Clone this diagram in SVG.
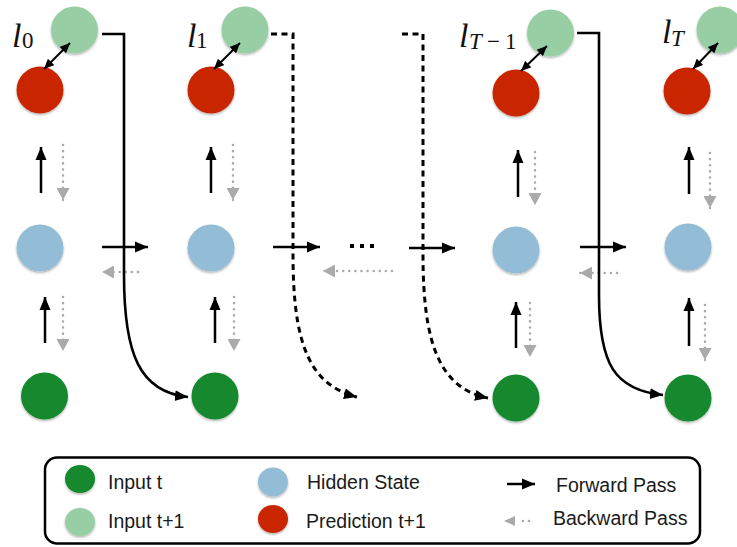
<svg xmlns="http://www.w3.org/2000/svg" width="737" height="547" viewBox="0 0 737 547">
<style>
.lg{fill:#97cea4}.rd{fill:#c92606}.bl{fill:#93bdd7}.dg{fill:#13882d}
.node circle,.leg ellipse{filter:url(#sh)}
.fw{fill:none;stroke:#000;stroke-width:2.5;marker-end:url(#ah)}
.bw{fill:none;stroke:#aaa;stroke-width:2.5;stroke-dasharray:0.1 6;stroke-linecap:round;marker-end:url(#gh)}
.sk{fill:none;stroke:#000;stroke-width:2.6;marker-end:url(#ah)}
.dk{fill:none;stroke:#000;stroke-width:3;stroke-dasharray:6 4.5;marker-end:url(#ah)}
.dbl{fill:none;stroke:#000;stroke-width:2;marker-start:url(#sa);marker-end:url(#sa)}
.lab{font-family:"Liberation Serif","DejaVu Serif",serif;fill:#111}
.li{font-size:34px;font-style:italic}
.sb{font-size:23px}
.lt{font-family:"Liberation Sans","DejaVu Sans",sans-serif;font-size:19.5px;fill:#1a1a1a}
</style>
<defs>
<filter id="sh" x="-30%" y="-30%" width="160%" height="170%"><feDropShadow dx="0" dy="1.5" stdDeviation="1.2" flood-color="#000" flood-opacity="0.3"/></filter>
<marker id="ah" markerUnits="userSpaceOnUse" markerWidth="13" markerHeight="12" refX="13" refY="6" orient="auto"><path d="M0,0.5 L13,6 L0,11.5 z" fill="#000"/></marker>
<marker id="gh" markerUnits="userSpaceOnUse" markerWidth="12" markerHeight="13" refX="12" refY="6.5" orient="auto"><path d="M0,0 L12,6.5 L0,13 z" fill="#aaa"/></marker>
<marker id="sa" markerUnits="userSpaceOnUse" markerWidth="10" markerHeight="9" refX="10" refY="4.5" orient="auto-start-reverse"><path d="M0,0 L10,4.5 L0,9 z" fill="#000"/></marker>
</defs>

<g id="col0-input-next" class="node"><circle class="lg" cx="74.5" cy="30" r="23.5"/>
<text class="lab"><tspan class="li" x="12" y="47">l</tspan><tspan class="sb" x="22" y="48">0</tspan></text></g>
<g id="col0-pred" class="node"><circle class="rd" cx="40" cy="90" r="23.5"/></g>
<g id="col0-hidden" class="node"><circle class="bl" cx="40" cy="248" r="23.5"/></g>
<g id="col0-input" class="node"><circle class="dg" cx="44.5" cy="396" r="23.5"/></g>

<g id="col1-input-next" class="node"><circle class="lg" cx="245" cy="30" r="23.5"/>
<text class="lab"><tspan class="li" x="187" y="47">l</tspan><tspan class="sb" x="196" y="48">1</tspan></text></g>
<g id="col1-pred" class="node"><circle class="rd" cx="211" cy="90" r="23.5"/></g>
<g id="col1-hidden" class="node"><circle class="bl" cx="211" cy="248" r="23.5"/></g>
<g id="col1-input" class="node"><circle class="dg" cx="215" cy="396" r="23.5"/></g>

<g id="colT1-input-next" class="node"><circle class="lg" cx="550.5" cy="33" r="23.5"/>
<text class="lab"><tspan class="li" x="459" y="47">l</tspan><tspan class="sb" font-style="italic" x="469" y="49">T</tspan><tspan class="sb" x="487" y="49">−</tspan><tspan class="sb" x="505" y="49">1</tspan></text></g>
<g id="colT1-pred" class="node"><circle class="rd" cx="516" cy="93" r="23.5"/></g>
<g id="colT1-hidden" class="node"><circle class="bl" cx="516" cy="250" r="23.5"/></g>
<g id="colT1-input" class="node"><circle class="dg" cx="516" cy="398" r="23.5"/></g>

<g id="colT-input-next" class="node"><circle class="lg" cx="720" cy="30" r="23.5"/>
<text class="lab"><tspan class="li" x="662" y="43">l</tspan><tspan class="sb" font-style="italic" x="671" y="46">T</tspan></text></g>
<g id="colT-pred" class="node"><circle class="rd" cx="687" cy="91" r="23.5"/></g>
<g id="colT-hidden" class="node"><circle class="bl" cx="688" cy="247" r="23.5"/></g>
<g id="colT-input" class="node"><circle class="dg" cx="688" cy="398" r="23.5"/></g>

<g id="connectors">
<path class="dbl" d="M44,69 L70,43"/>
<path class="dbl" d="M214,69 L240,43"/>
<path class="dbl" d="M521,71 L547,46"/>
<path class="dbl" d="M693,69 L718,43"/>
<path class="fw" d="M41,193 V147"/>
<path class="fw" d="M45,343 V297"/>
<path class="fw" d="M211,193 V147"/>
<path class="fw" d="M215,343 V297"/>
<path class="fw" d="M518,197 V150"/>
<path class="fw" d="M516,348 V302"/>
<path class="fw" d="M689,194 V147"/>
<path class="fw" d="M689,346 V298"/>
<path class="bw" d="M63,145 V200"/>
<path class="bw" d="M63,297 V351"/>
<path class="bw" d="M233,145 V200"/>
<path class="bw" d="M234,297 V351"/>
<path class="bw" d="M535,152 V205"/>
<path class="bw" d="M530,303 V357"/>
<path class="bw" d="M710,153 V208"/>
<path class="bw" d="M705,305 V360"/>
<path class="fw" d="M102,247 H148"/>
<path class="fw" d="M273,247 H320"/>
<path class="fw" d="M409,248 H455"/>
<path class="fw" d="M580,247 H626"/>
<path class="bw" d="M138,272 H102"/>
<path class="bw" d="M392,271 H323"/>
<path class="bw" d="M617,273 H580"/>
<path d="M350,246 H375" stroke="#000" stroke-width="4" stroke-dasharray="4 6" fill="none"/>
<path class="sk" d="M102,34 H124 V275 C124,355 140,392 188,397"/>
<path class="dk" d="M271,34 H293 V255 C293,345 310,385 357,397"/>
<path class="dk" d="M402,34 H423 V255 C423,345 440,388 488,398"/>
<path class="sk" d="M577,33 H599 V295 C599,365 615,390 663,395"/>
</g>

<g id="legend" class="leg">
<rect x="45" y="457.5" width="655" height="86" rx="12" fill="#fff" stroke="#000" stroke-width="2.5"/>
<ellipse class="dg" cx="80" cy="479" rx="15" ry="14"/>
<text class="lt" x="108" y="489">Input t</text>
<ellipse class="lg" cx="80" cy="522" rx="15" ry="14"/>
<text class="lt" x="108" y="528">Input t+1</text>
<ellipse class="bl" cx="273" cy="482" rx="15" ry="14.5"/>
<text class="lt" x="307" y="489">Hidden State</text>
<ellipse class="rd" cx="273" cy="519" rx="15" ry="14"/>
<text class="lt" x="306" y="528">Prediction t+1</text>
<path class="fw" d="M507,484 H535"/>
<text class="lt" x="556" y="492">Forward Pass</text>
<path d="M529,521 H522" fill="none" stroke="#aaa" stroke-width="2.5" stroke-dasharray="0.1 6" stroke-linecap="round"/>
<path d="M515,516 L504,521 L515,526 z" fill="#aaa"/>
<text class="lt" x="553" y="525">Backward Pass</text>
</g>
</svg>
